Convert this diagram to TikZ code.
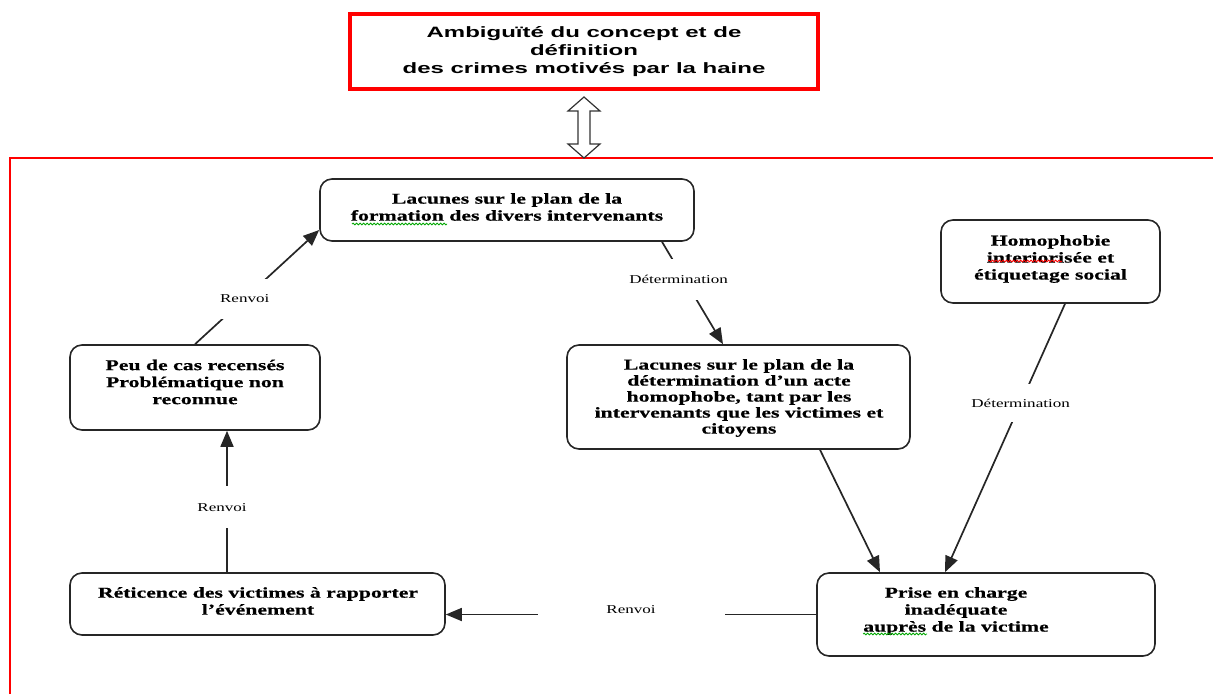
\documentclass[tikz,border=0pt]{standalone}
\usepackage{fontspec}
\usetikzlibrary{arrows.meta,calc,decorations.pathmorphing}
\newfontfamily\boxfont[FakeStretch=1.45, BoldFeatures={FakeBold=0.5}]{Liberation Serif}
\newfontfamily\topfont[FakeStretch=1.6]{Liberation Sans}
\newfontfamily\lblfont[FakeStretch=1.42]{Liberation Serif}
\begin{document}
\begin{tikzpicture}[x=1pt,y=-1pt,
  box/.style={draw=black!85, line width=1.6pt, rounded corners=12pt, align=center, inner sep=0pt},
  boxtxt/.style={align=center, inner sep=0pt, font=\boxfont\bfseries\fontsize{15}{17}\selectfont},
  lbl/.style={fill=white, inner sep=0pt, font=\lblfont\fontsize{12}{14}\selectfont},
  arr/.style={line width=1.7pt, draw=black!85, -{Triangle[length=16pt,width=13pt]}},
  topbox/.style={draw=red, line width=3.5pt, align=center, inner sep=0pt,
    font=\topfont\bfseries\fontsize{15}{18}\selectfont},
  spell/.style={line width=0.8pt, decorate, decoration={snake, amplitude=0.9pt, segment length=3.5pt}}]
\useasboundingbox (0,0) rectangle (1213,694);

% frame
\draw[red, line width=2pt] (10,694) -- (10,158) -- (1213,158);

% top box
\node[topbox, minimum width=468pt, minimum height=75pt] (T) at (584,51.5)
  {Ambiguïté du concept et de\\définition\\des crimes motivés par la haine};

% hollow double arrow
\draw[black!80, line width=1.2pt, fill=white]
  (584,97) -- (600,111) -- (590,111) -- (590,144) -- (600,144) -- (584,158)
  -- (568,144) -- (578,144) -- (578,111) -- (568,111) -- cycle;

% boxes
\node[box, minimum width=374pt, minimum height=62pt] (A) at (507,210) {};
\node[boxtxt] (At) at (507,207)
  {Lacunes sur le plan de la\\formation des divers intervenants};
\node[box, minimum width=219pt, minimum height=83pt] (B) at (1050.5,261.5) {};
\node[boxtxt] (Bt) at (1050.5,259)
  {Homophobie\\interiorisée et\\étiquetage social};
\node[box, minimum width=250pt, minimum height=85pt] (C) at (195,387.5) {};
\node[boxtxt] (Ct) at (195,382)
  {Peu de cas recensés\\Problématique non\\reconnue};
\node[box, minimum width=343pt, minimum height=104pt] (D) at (738.5,397) {};
\node[boxtxt, font=\boxfont\bfseries\fontsize{15}{16}\selectfont] (Dt) at (739,398)
  {Lacunes sur le plan de la\\détermination d’un acte\\homophobe, tant par les\\intervenants que les victimes et\\citoyens};
\node[box, minimum width=375pt, minimum height=62pt] (E) at (257.5,604) {};
\node[boxtxt] (Et) at (258,601)
  {Réticence des victimes à rapporter\\l’événement};
\node[box, minimum width=338pt, minimum height=83pt] (F) at (986,614.5) {};
\node[boxtxt] (Ft) at (956,611)
  {Prise en charge\\inadéquate\\auprès de la victime};

% spell-check underlines
\draw[spell, green!65!black] (352,224) -- (447,224);
\draw[spell, red] (988,261) -- (1062,261);
\draw[spell, green!65!black] (863,634) -- (927,634);

% connectors
\draw[arr] (C.north) -- ($(A.west)+(0,20)$)
  node[lbl, pos=0.4, minimum width=40pt, minimum height=40pt] {Renvoi};
\draw[arr] ([xshift=-30.5pt]E.north) -- ([xshift=32pt]C.south)
  node[lbl, pos=0.46, minimum height=42pt, xshift=-5pt] {Renvoi};
\draw[arr] ([xshift=155pt]A.south) -- ([xshift=-15.5pt]D.north)
  node[lbl, pos=0.37, minimum height=41pt, xshift=-6pt] {Détermination};
\draw[arr] ([xshift=14.5pt]B.south) -- ([xshift=-41pt]F.north)
  node[lbl, pos=0.37, minimum height=38pt] {Détermination};
\draw[arr] ([xshift=81.5pt]D.south) -- ([xshift=-106pt]F.north);
\draw[arr] (F.west) -- (F.west -| E.east)
  node[lbl, pos=0.5, minimum width=187pt, minimum height=20pt, yshift=5pt] {Renvoi};
\end{tikzpicture}
\end{document}
